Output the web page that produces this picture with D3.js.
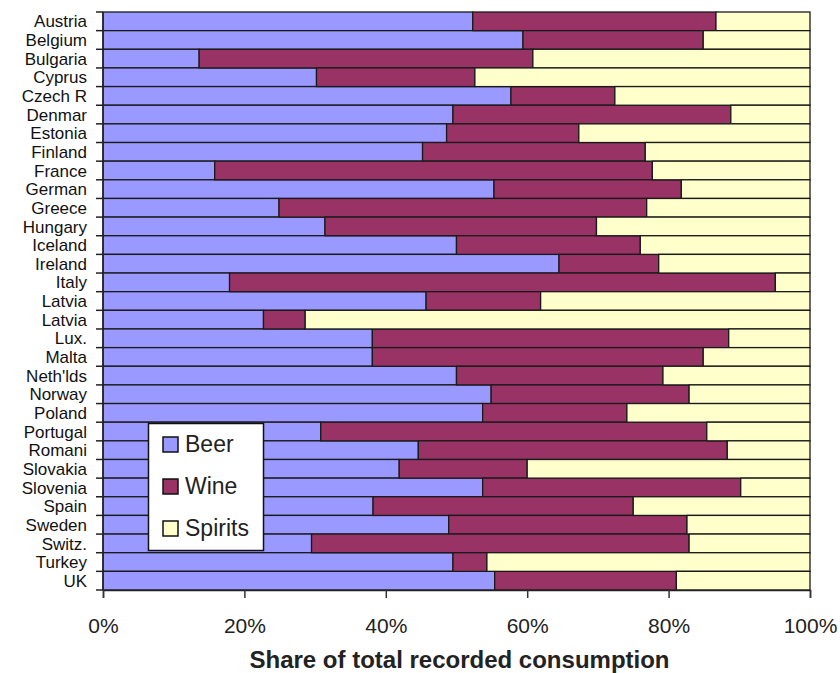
<!DOCTYPE html>
<html>
<head>
<meta charset="utf-8">
<script src="https://cdn.jsdelivr.net/npm/d3@7"></script>
<style>
  html, body { margin: 0; padding: 0; background: #fff; }
  svg { display: block; font-family: "Liberation Sans", Arial, sans-serif; }
</style>
</head>
<body>
<svg id="chart" width="840" height="673"></svg>
<script>
// Share of recorded alcohol consumption by beverage type (%)
const countries = ["Austria","Belgium","Bulgaria","Cyprus","Czech R","Denmar","Estonia","Finland",
  "France","German","Greece","Hungary","Iceland","Ireland","Italy","Latvia","Latvia","Lux.","Malta",
  "Neth'lds","Norway","Poland","Portugal","Romani","Slovakia","Slovenia","Spain","Sweden","Switz.",
  "Turkey","UK"];
const beer = [52.3,59.4,13.6,30.2,57.7,49.5,48.6,45.2,15.8,55.3,24.9,31.4,50.0,64.5,17.9,45.7,22.7,
  38.1,38.1,50.0,54.9,53.7,30.8,44.6,41.9,53.7,38.2,48.9,29.5,49.5,55.4];
const wine = [34.4,25.5,47.2,22.4,14.7,39.3,18.7,31.5,61.9,26.5,52.0,38.4,26.0,14.1,77.2,16.2,5.9,
  50.4,46.8,29.2,28.0,20.4,54.6,43.7,18.1,36.5,36.8,33.7,53.4,4.8,25.7];
const spirits = [13.3,15.1,39.2,47.4,27.6,11.2,32.7,23.3,22.3,18.2,23.1,30.2,24.0,21.4,4.9,38.1,71.4,
  11.5,15.1,20.8,17.1,25.9,14.6,11.7,40.0,9.8,25.0,17.4,17.1,45.7,18.9];
const seriesNames = ["Beer","Wine","Spirits"];
const seriesColors = ["#9999ff","#993366","#ffffcc"];
const xTicks = [0,20,40,60,80,100];
const xTitle = "Share of total recorded consumption";

const svg = d3.select("#chart");
const plotLeft = 103, plotRight = 810, plotTop = 12, plotBottom = 590;

const rows = countries.map((c, i) => ({ idx: i, Beer: beer[i], Wine: wine[i], Spirits: spirits[i] }));
const stacked = d3.stack().keys(seriesNames)(rows);

const x = d3.scaleLinear().domain([0, 100]).range([plotLeft, plotRight]);
const y = d3.scaleBand().domain(d3.range(countries.length)).range([plotTop, plotBottom]).padding(0);
const color = d3.scaleOrdinal().domain(seriesNames).range(seriesColors);

// stacked bars
svg.append("g").selectAll("g").data(stacked).join("g")
  .attr("fill", d => color(d.key))
  .selectAll("rect").data(d => d).join("rect")
    .attr("x", d => x(d[0]))
    .attr("y", d => y(d.data.idx))
    .attr("width", d => x(d[1]) - x(d[0]))
    .attr("height", y.bandwidth())
    .attr("stroke", "#1a1a1a")
    .attr("stroke-width", 1.3);

// category axis: ticks at the band boundaries
const yAxis = svg.append("g");
yAxis.append("line")
  .attr("x1", plotLeft).attr("x2", plotLeft).attr("y1", plotTop).attr("y2", plotBottom)
  .attr("stroke", "#222").attr("stroke-width", 1.5);
yAxis.selectAll("line.tick").data(d3.range(countries.length + 1)).join("line")
  .attr("class", "tick")
  .attr("x1", plotLeft - 7).attr("x2", plotLeft)
  .attr("y1", i => plotTop + i * y.step()).attr("y2", i => plotTop + i * y.step())
  .attr("stroke", "#222").attr("stroke-width", 1.5);
yAxis.selectAll("text").data(countries).join("text")
  .attr("x", 87)
  .attr("y", (d, i) => y(i) + y.bandwidth() / 2)
  .attr("dy", "0.36em")
  .attr("text-anchor", "end")
  .attr("font-size", "17px")
  .attr("fill", "#111")
  .text(d => d);

// value axis
const xAxis = svg.append("g").attr("transform", `translate(0,${plotBottom})`)
  .call(d3.axisBottom(x).tickValues(xTicks).tickSize(8).tickPadding(0).tickFormat(d => d + "%"));
xAxis.select(".domain").attr("stroke", "#222").attr("stroke-width", 1.5);
xAxis.selectAll(".tick line").attr("stroke", "#333").attr("stroke-width", 1.5);
xAxis.selectAll(".tick text")
  .attr("y", 43).attr("dy", 0)
  .attr("font-size", "21px")
  .attr("font-family", "'Liberation Sans', Arial, sans-serif")
  .attr("fill", "#222");

svg.append("text")
  .attr("x", (plotLeft + plotRight) / 2 + 3).attr("y", 668)
  .attr("text-anchor", "middle")
  .attr("font-size", "24px").attr("font-weight", "bold")
  .attr("fill", "#222")
  .text(xTitle);

// legend
const legend = svg.append("g");
legend.append("rect")
  .attr("x", 148.5).attr("y", 423.5).attr("width", 115).attr("height", 127)
  .attr("fill", "#fff").attr("stroke", "#111").attr("stroke-width", 1.5);
const item = legend.selectAll("g.item").data(seriesNames).join("g")
  .attr("class", "item")
  .attr("transform", (d, i) => `translate(163,${444 + i * 42})`);
item.append("rect")
  .attr("x", 0).attr("y", -7).attr("width", 15).attr("height", 15)
  .attr("fill", d => color(d)).attr("stroke", "#111").attr("stroke-width", 1.5);
item.append("text")
  .attr("x", 22).attr("y", 0).attr("dy", "0.35em")
  .attr("font-size", "23px").attr("fill", "#222")
  .text(d => d);
</script>
</body>
</html>
